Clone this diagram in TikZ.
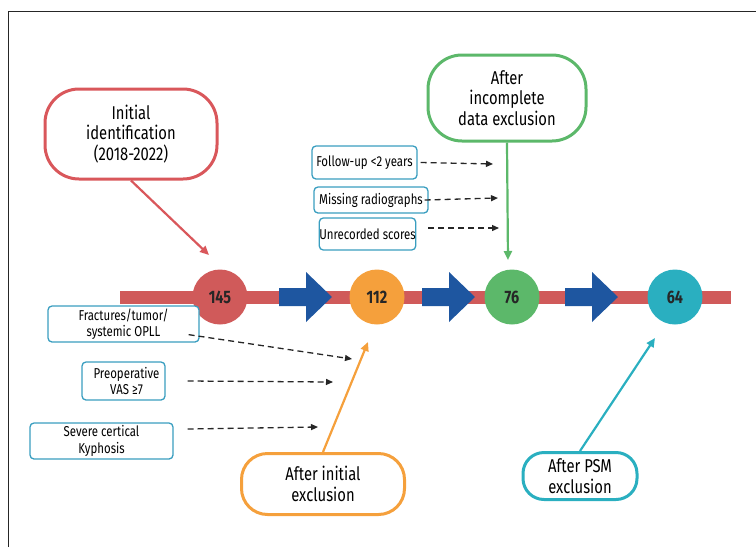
\documentclass[tikz,border=0pt]{standalone}
\usepackage{fontspec}
\setmainfont[FakeStretch=0.8]{Fira Sans}
\usepackage{tikz}
\usetikzlibrary{arrows.meta}

\definecolor{barred}{HTML}{D05A5A}
\definecolor{calred}{HTML}{D9575B}
\definecolor{calorange}{HTML}{F5A03C}
\definecolor{calgreen}{HTML}{5CB86A}
\definecolor{calteal}{HTML}{2AAFC0}
\definecolor{stepblue}{HTML}{1E56A0}
\definecolor{boxedge}{HTML}{3A9EC0}

\tikzset{
  callout/.style={draw=#1, line width=3pt, rounded corners=24pt, fill=white,
    align=center, font=\fontsize{18.5}{20.5}\selectfont, inner sep=0pt},
  pointer/.style={draw=#1, line width=2.2pt, -{Triangle[length=9pt,width=8pt]}},
  countdot/.style={circle, fill=#1, minimum size=55pt, inner sep=0pt,
    font=\bfseries\fontsize{18}{18}\selectfont, text=black!85},
  reason/.style={draw=boxedge, line width=1.3pt, rounded corners=4pt, fill=white,
    align=center, font=\fontsize{14.3}{16.5}\selectfont, inner sep=0pt},
  dropped/.style={black!85, line width=1.3pt, dash pattern=on 6pt off 4pt,
    -{Triangle[length=7pt,width=6pt]}},
}

\begin{document}
\begin{tikzpicture}[x=1pt,y=-1pt]
		\useasboundingbox (0,0) rectangle (756,547);
		\draw[line width=1pt, black!85] (8,547) -- (8,11) -- (756,11);
		% timeline
		\draw[barred, line width=13pt] (120,297) -- (731,297);
		\foreach \x in {279,422,565}
			\fill[stepblue] (\x,288) -- (\x+27,288) -- (\x+27,272) -- (\x+53,297)
				-- (\x+27,322) -- (\x+27,306) -- (\x,306) -- cycle;
		\node (N1) at (220,297) [countdot=barred] {145};
		\node (N2) at (377,297) [countdot=calorange] {112};
		\node (N3) at (512,297) [countdot=calgreen] {76};
		\node (N4) at (675,297) [countdot=calteal] {64};
		% callouts
		\node (Init) at (131,134) [callout=calred, minimum width=172pt, minimum height=90pt, rounded corners=34pt] {Initial\\identification\\(2018-2022)};
		\node (Incomp) at (507,98) [callout=calgreen, minimum width=158pt, minimum height=86pt, rounded corners=34pt] {After\\incomplete\\data exclusion};
		\node (Excl) at (323,484) [callout=calorange, minimum width=163pt, minimum height=61pt, rounded corners=26pt] {After initial\\exclusion};
		\node (PSM) at (580,476) [callout=calteal, minimum width=114pt, minimum height=47pt, rounded corners=21pt] {After PSM\\exclusion};
		\coordinate (T1) at (209,255);
		\coordinate (T2) at (508,260);
		\coordinate (T3) at (368,342);
		\coordinate (T4) at (655,338);
		\draw[pointer=calred] (Init.south) -- (T1);
		\draw[pointer=calgreen] (Incomp.south) -- (T2);
		\draw[pointer=calorange] (Excl.north) -- (T3);
		\draw[pointer=calteal] (PSM.north) -- (T4);
		% reasons for exclusion
		\node (Fu) at (364.5,162.5) [reason, minimum width=105pt, minimum height=33pt] {Follow-up <2 years};
		\node (Mr) at (371,200) [reason, minimum width=114pt, minimum height=26pt] {Missing radiographs};
		\node (Us) at (367.5,234) [reason, minimum width=91pt, minimum height=32pt] {Unrecorded scores};
		\node (Fr) at (123.5,324) [reason, minimum width=151pt, minimum height=36pt] {Fractures/tumor/\\systemic OPLL};
		\node (Pv) at (123.5,381) [reason, minimum width=83pt, minimum height=38pt] {\hspace*{6pt}Preoperative\\\hspace*{6pt}VAS ≥7};
		\node (Sk) at (101.5,441) [reason, minimum width=143pt, minimum height=36pt] {Severe certical\\Kyphosis};
		\coordinate (D1) at (493,164);
		\coordinate (D2) at (498,198);
		\coordinate (D3) at (499,228);
		\coordinate (D4) at (352,359);
		\coordinate (D5) at (333,382);
		\coordinate (D6) at (318,427);
		\draw[dropped] ([xshift=3pt]Fu.east) -- (D1);
		\draw[dropped] ([xshift=-4pt]Mr.east) -- (D2);
		\draw[dropped] ([xshift=12pt,yshift=6pt]Us.east) -- (D3);
		\draw[dropped] ([shift={(-11,-8)}]Fr.south east) -- (D4);
		\draw[dropped] ([xshift=22pt]Pv.east) -- (D5);
		\draw[dropped] ([xshift=14pt,yshift=12pt]Sk.east) -- (D6);
	\end{tikzpicture}
\end{document}
